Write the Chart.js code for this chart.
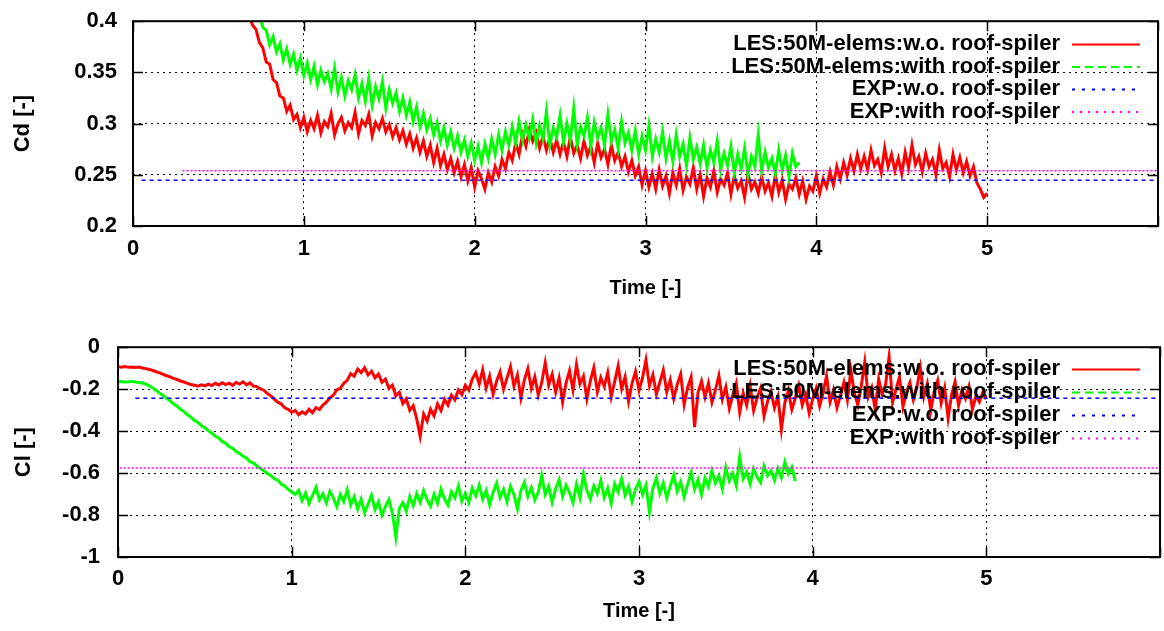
<!DOCTYPE html>
<html>
<head>
<meta charset="utf-8">
<script src="https://cdn.jsdelivr.net/npm/chart.js@4.4.1/dist/chart.umd.min.js"></script>
<style>
  html, body { margin: 0; padding: 0; background: #fff; overflow: hidden; }
  #wrap { position: relative; width: 1164px; height: 631px; overflow: hidden; }
  #cd { position: absolute; left: 0; top: -8px; }
  #cl { position: absolute; left: 0; top: 316px; }
</style>
</head>
<body>
<div id="wrap">
  <canvas id="cd" width="1168" height="324"></canvas>
  <canvas id="cl" width="1169" height="315"></canvas>
</div>
<script>
// series names
var names = ["LES:50M-elems:w.o. roof-spiler", "LES:50M-elems:with roof-spiler",
             "EXP:w.o. roof-spiler", "EXP:with roof-spiler"];

// sampling step of the LES records (time [-])
var dt = 0.02;

// Cd, LES without spoiler, starts at t = 0.68
var cdRedStart = 0.68;
var cdRed = [
  0.406, 0.396, 0.392, 0.379, 0.374, 0.360, 0.358, 0.343, 0.340, 0.327,
  0.325, 0.312, 0.318, 0.304, 0.309, 0.296, 0.306, 0.292, 0.303, 0.295,
  0.308, 0.291, 0.302, 0.297, 0.310, 0.289, 0.300, 0.306, 0.293, 0.301,
  0.296, 0.311, 0.290, 0.303, 0.298, 0.309, 0.288, 0.301, 0.295, 0.305,
  0.292, 0.299, 0.287, 0.296, 0.284, 0.293, 0.280, 0.290, 0.276, 0.286,
  0.272, 0.283, 0.268, 0.279, 0.262, 0.276, 0.259, 0.270, 0.255, 0.266,
  0.252, 0.263, 0.248, 0.260, 0.244, 0.257, 0.238, 0.254, 0.246, 0.236,
  0.252, 0.243, 0.258, 0.249, 0.265, 0.256, 0.272, 0.264, 0.281, 0.270,
  0.289, 0.278, 0.294, 0.283, 0.291, 0.276, 0.288, 0.274, 0.286, 0.272,
  0.284, 0.270, 0.282, 0.268, 0.287, 0.271, 0.279, 0.266, 0.283, 0.269,
  0.278, 0.262, 0.281, 0.267, 0.275, 0.260, 0.279, 0.264, 0.272, 0.258,
  0.268, 0.253, 0.264, 0.249, 0.258, 0.240, 0.254, 0.238, 0.251, 0.236,
  0.255, 0.239, 0.249, 0.232, 0.252, 0.240, 0.256, 0.235, 0.248, 0.241,
  0.257, 0.236, 0.250, 0.229, 0.247, 0.238, 0.254, 0.233, 0.246, 0.240,
  0.252, 0.231, 0.249, 0.237, 0.244, 0.228, 0.251, 0.236, 0.243, 0.232,
  0.248, 0.234, 0.242, 0.229, 0.250, 0.233, 0.245, 0.226, 0.241, 0.236,
  0.247, 0.231, 0.244, 0.226, 0.239, 0.234, 0.249, 0.232, 0.246, 0.238,
  0.253, 0.240, 0.258, 0.246, 0.262, 0.250, 0.266, 0.254, 0.270, 0.256,
  0.268, 0.255, 0.274, 0.259, 0.265, 0.252, 0.276, 0.258, 0.270, 0.254,
  0.266, 0.251, 0.272, 0.257, 0.279, 0.260, 0.268, 0.253, 0.271, 0.258,
  0.265, 0.250, 0.274, 0.256, 0.262, 0.248, 0.270, 0.255, 0.267, 0.252,
  0.263, 0.249, 0.258, 0.242, 0.236, 0.228, 0.232
];

// Cd, LES with spoiler, starts at t = 0.74
var cdGreenStart = 0.74;
var cdGreen = [
  0.408, 0.394, 0.391, 0.377, 0.385, 0.370, 0.378, 0.362, 0.373, 0.358,
  0.368, 0.352, 0.364, 0.347, 0.359, 0.343, 0.356, 0.338, 0.352, 0.341,
  0.349, 0.334, 0.354, 0.331, 0.345, 0.327, 0.342, 0.333, 0.348, 0.325,
  0.339, 0.322, 0.344, 0.318, 0.336, 0.324, 0.341, 0.315, 0.333, 0.320,
  0.330, 0.312, 0.325, 0.308, 0.321, 0.302, 0.316, 0.297, 0.310, 0.294,
  0.305, 0.289, 0.301, 0.283, 0.296, 0.279, 0.292, 0.276, 0.288, 0.272,
  0.284, 0.268, 0.281, 0.264, 0.278, 0.262, 0.280, 0.266, 0.285, 0.270,
  0.289, 0.274, 0.292, 0.279, 0.297, 0.281, 0.302, 0.284, 0.299, 0.286,
  0.304, 0.281, 0.298, 0.285, 0.312, 0.279, 0.296, 0.287, 0.308, 0.282,
  0.300, 0.284, 0.315, 0.280, 0.297, 0.288, 0.306, 0.278, 0.301, 0.286,
  0.296, 0.279, 0.309, 0.283, 0.294, 0.276, 0.302, 0.281, 0.291, 0.274,
  0.293, 0.270, 0.288, 0.274, 0.298, 0.268, 0.285, 0.272, 0.292, 0.266,
  0.283, 0.263, 0.289, 0.268, 0.280, 0.259, 0.286, 0.265, 0.277, 0.261,
  0.279, 0.257, 0.274, 0.262, 0.283, 0.255, 0.271, 0.259, 0.278, 0.252,
  0.270, 0.256, 0.276, 0.250, 0.268, 0.258, 0.289, 0.254, 0.272, 0.257,
  0.266, 0.251, 0.274, 0.255, 0.269, 0.248, 0.271, 0.258, 0.262
];

// Cl, LES without spoiler, starts at t = 0
var clRedStart = 0;
var clRed = [
  -0.093, -0.095, -0.092, -0.096, -0.094, -0.097, -0.095, -0.099, -0.102, -0.106,
  -0.111, -0.117, -0.122, -0.129, -0.136, -0.141, -0.149, -0.154, -0.161, -0.166,
  -0.172, -0.178, -0.181, -0.186, -0.179, -0.184, -0.176, -0.183, -0.172, -0.180,
  -0.169, -0.178, -0.171, -0.182, -0.168, -0.176, -0.165, -0.179, -0.170, -0.185,
  -0.188, -0.199, -0.205, -0.221, -0.232, -0.248, -0.262, -0.271, -0.289, -0.296,
  -0.310, -0.301, -0.322, -0.308, -0.318, -0.296, -0.312, -0.288, -0.297, -0.276,
  -0.262, -0.241, -0.229, -0.204, -0.196, -0.172, -0.158, -0.126, -0.138, -0.104,
  -0.121, -0.098, -0.132, -0.115, -0.146, -0.128, -0.167, -0.152, -0.196, -0.181,
  -0.232, -0.215, -0.268, -0.246, -0.301, -0.279, -0.342, -0.425, -0.318, -0.352,
  -0.296, -0.327, -0.271, -0.302, -0.248, -0.276, -0.229, -0.251, -0.204, -0.226,
  -0.182, -0.205, -0.152, -0.121, -0.176, -0.108, -0.195, -0.138, -0.224, -0.162,
  -0.118, -0.201, -0.147, -0.093, -0.186, -0.132, -0.242, -0.156, -0.102, -0.197,
  -0.141, -0.228, -0.168, -0.074, -0.181, -0.129, -0.215, -0.147, -0.262, -0.171,
  -0.112, -0.204, -0.083, -0.176, -0.138, -0.246, -0.159, -0.098, -0.213, -0.145,
  -0.187, -0.121, -0.236, -0.164, -0.089, -0.198, -0.141, -0.258, -0.172, -0.116,
  -0.205, -0.148, -0.061, -0.183, -0.131, -0.224, -0.167, -0.109, -0.213, -0.156,
  -0.245, -0.178, -0.128, -0.274, -0.192, -0.143, -0.381, -0.216, -0.162, -0.238,
  -0.171, -0.263, -0.205, -0.136, -0.248, -0.189, -0.292, -0.227, -0.172, -0.311,
  -0.219, -0.276, -0.184, -0.302, -0.241, -0.195, -0.328, -0.258, -0.211, -0.289,
  -0.236, -0.392, -0.264, -0.207, -0.298, -0.243, -0.183, -0.276, -0.226, -0.314,
  -0.248, -0.196, -0.281, -0.219, -0.137, -0.262, -0.204, -0.289, -0.231, -0.168,
  -0.252, -0.109, -0.218, -0.276, -0.184, -0.071, -0.237, -0.193, -0.298, -0.152,
  -0.224, -0.178, -0.046, -0.263, -0.201, -0.142, -0.284, -0.215, -0.169, -0.251,
  -0.192, -0.098, -0.236, -0.174, -0.302, -0.211, -0.158, -0.267, -0.194, -0.338,
  -0.226, -0.164, -0.278, -0.203, -0.245, -0.187, -0.296, -0.232, -0.261, -0.214,
  -0.248
];

// Cl, LES with spoiler, starts at t = 0
var clGreenStart = 0;
var clGreen = [
  -0.165, -0.164, -0.166, -0.165, -0.163, -0.166, -0.168, -0.171, -0.176, -0.184,
  -0.194, -0.206, -0.219, -0.230, -0.244, -0.256, -0.270, -0.281, -0.296, -0.307,
  -0.322, -0.333, -0.349, -0.358, -0.374, -0.384, -0.399, -0.409, -0.425, -0.433,
  -0.449, -0.457, -0.474, -0.481, -0.497, -0.506, -0.520, -0.528, -0.546, -0.552,
  -0.566, -0.578, -0.589, -0.602, -0.611, -0.627, -0.634, -0.652, -0.661, -0.677,
  -0.689, -0.702, -0.682, -0.731, -0.694, -0.745, -0.706, -0.668, -0.728, -0.699,
  -0.742, -0.687, -0.718, -0.761, -0.702, -0.736, -0.679, -0.752, -0.713, -0.771,
  -0.724, -0.789, -0.748, -0.706, -0.774, -0.738, -0.801, -0.759, -0.726, -0.792,
  -0.905, -0.768, -0.741, -0.782, -0.712, -0.756, -0.698, -0.739, -0.684, -0.727,
  -0.758, -0.701, -0.744, -0.676, -0.723, -0.752, -0.689, -0.718, -0.661, -0.734,
  -0.696, -0.741, -0.672, -0.709, -0.658, -0.724, -0.683, -0.751, -0.692, -0.648,
  -0.716, -0.677, -0.736, -0.663, -0.702, -0.771, -0.684, -0.645, -0.712, -0.669,
  -0.728, -0.691, -0.612, -0.703, -0.662, -0.739, -0.676, -0.632, -0.711, -0.658,
  -0.694, -0.741, -0.653, -0.718, -0.605, -0.682, -0.724, -0.661, -0.698, -0.636,
  -0.717, -0.672, -0.744, -0.651, -0.689, -0.628, -0.706, -0.663, -0.735, -0.677,
  -0.641, -0.702, -0.658, -0.785, -0.673, -0.624, -0.696, -0.647, -0.719, -0.662,
  -0.608, -0.687, -0.642, -0.714, -0.655, -0.598, -0.677, -0.631, -0.702, -0.624,
  -0.664, -0.589, -0.648, -0.612, -0.676, -0.573, -0.638, -0.601, -0.659, -0.522,
  -0.627, -0.594, -0.652, -0.581, -0.619, -0.645, -0.566, -0.612, -0.589, -0.634,
  -0.578, -0.621, -0.547, -0.603, -0.572, -0.638
];

// experiment values: [w.o. spoiler, with spoiler] and where each line starts
var expCd = [0.2447, 0.254];
var expCdFrom = [0.05, 0.29];
var expCl = [-0.243, -0.576];
var expClFrom = [0.10, 0.01];

// axis ticks
var timeMax = 6;
var cdMin = 0.2, cdMax = 0.4, cdStep = 0.05;
var clMin = -1, clMax = 0, clStep = 0.2;

var font = "'Liberation Sans', Arial, sans-serif";

function series(t0, vals) {
    return vals.map(function (v, i) {
        return { x: +(t0 + i * dt).toFixed(2), y: v };
    });
}
function level(t0, v) {
    return [{ x: t0, y: v }, { x: timeMax, y: v }];
}

// gnuplot-like border with inward ticks
var framePlugin = {
    id: "frame",
    afterDatasetsDraw: function (chart) {
        var ctx = chart.ctx, a = chart.chartArea;
        var xs = chart.scales.x, ys = chart.scales.y;
        ctx.save();
        ctx.strokeStyle = "#000";
        ctx.lineWidth = 1.5;
        ctx.beginPath();
        xs.ticks.forEach(function (t) {
            var p = Math.round(xs.getPixelForValue(t.value)) + 0.5;
            ctx.moveTo(p, a.bottom); ctx.lineTo(p, a.bottom - 10);
            ctx.moveTo(p, a.top); ctx.lineTo(p, a.top + 10);
        });
        ys.ticks.forEach(function (t) {
            var p = Math.round(ys.getPixelForValue(t.value)) + 0.5;
            ctx.moveTo(a.left, p); ctx.lineTo(a.left + 10, p);
            ctx.moveTo(a.right, p); ctx.lineTo(a.right - 10, p);
        });
        ctx.stroke();
        ctx.lineWidth = 2;
        ctx.strokeRect(a.left, a.top, a.right - a.left, a.bottom - a.top);
        ctx.restore();
    }
};

// key drawn inside the plot, text right aligned, like gnuplot
var keyPlugin = {
    id: "key",
    afterDraw: function (chart, args, opts) {
        var ctx = chart.ctx;
        ctx.save();
        ctx.font = "bold 22px " + font;
        ctx.textAlign = "right";
        ctx.textBaseline = "middle";
        chart.data.datasets.forEach(function (ds, i) {
            var y = opts.top + i * opts.gap;
            ctx.fillStyle = "#000";
            ctx.fillText(ds.label, opts.textRight, y);
            ctx.strokeStyle = ds.borderColor;
            ctx.lineWidth = 2;
            ctx.setLineDash(ds.keyDash);
            ctx.beginPath();
            ctx.moveTo(opts.lineFrom, y + 0.5);
            ctx.lineTo(opts.lineTo, y + 0.5);
            ctx.stroke();
        });
        ctx.restore();
    }
};

function makeChart(id, cfg) {
    var ctx = document.getElementById(id);
    return new Chart(ctx, {
        type: "line",
        data: {
            datasets: [
                { label: names[0], data: cfg.red, borderColor: "#ff0000", borderWidth: 3,
                  keyDash: [], order: 3 },
                { label: names[1], data: cfg.green, borderColor: "#00ff00", borderWidth: 3,
                  keyDash: [8, 5], order: 2 },
                { label: names[2], data: cfg.blue, borderColor: "#0000ff", borderWidth: 1.5,
                  borderDash: [4, 4], keyDash: [3, 7], order: 1 },
                { label: names[3], data: cfg.magenta, borderColor: "#ff00ff", borderWidth: 1.5,
                  borderDash: [2, 2], keyDash: [2, 6], order: 0 }
            ]
        },
        options: {
            responsive: false,
            animation: false,
            events: [],
            layout: { padding: { top: cfg.padTop, right: 1, left: 0, bottom: 0 } },
            elements: { point: { radius: 0 }, line: { tension: 0 } },
            plugins: {
                legend: { display: false },
                tooltip: { enabled: false },
                key: cfg.key
            },
            scales: {
                x: {
                    type: "linear",
                    min: 0, max: timeMax,
                    afterFit: function (s) { s.height = cfg.xHeight; },
                    ticks: {
                        stepSize: 1,
                        padding: cfg.xPad,
                        color: "#000",
                        font: { family: font, size: 22, weight: "bold" },
                        callback: function (v) { return v === timeMax ? "" : v; }
                    },
                    grid: { color: "#000", lineWidth: 1, drawTicks: false },
                    border: { display: false, dash: [2, 4] },
                    title: {
                        display: true, text: "Time [-]", color: "#000",
                        font: { family: font, size: 20, weight: "bold" },
                        padding: { top: 0, bottom: cfg.xTitlePad }
                    }
                },
                y: {
                    min: cfg.yMin, max: cfg.yMax,
                    afterFit: function (s) { s.width = cfg.yWidth; },
                    ticks: {
                        stepSize: cfg.yStep,
                        padding: cfg.yPad,
                        color: "#000",
                        font: { family: font, size: 22, weight: "bold" },
                        callback: function (v) { return String(+v.toFixed(2)); }
                    },
                    grid: { color: "#000", lineWidth: 1, drawTicks: false },
                    border: { display: false, dash: [2, 4] },
                    title: {
                        display: true, text: cfg.yTitle, color: "#000",
                        font: { family: font, size: 22, weight: "bold" },
                        padding: { top: cfg.yTitlePad, bottom: 0 }
                    }
                }
            }
        },
        plugins: [framePlugin, keyPlugin]
    });
}

makeChart("cd", {
    red: series(cdRedStart, cdRed),
    green: series(cdGreenStart, cdGreen),
    blue: level(expCdFrom[0], expCd[0]),
    magenta: level(expCdFrom[1], expCd[1]),
    yMin: cdMin, yMax: cdMax, yStep: cdStep, yTitle: "Cd [-]",
    padTop: 28, xHeight: 90, yWidth: 133, xPad: 10, yPad: 16,
    xTitlePad: 16, yTitlePad: 10,
    key: { top: 52, gap: 22.5, textRight: 1060, lineFrom: 1072, lineTo: 1140 }
});

makeChart("cl", {
    red: series(clRedStart, clRed),
    green: series(clGreenStart, clGreen),
    blue: level(expClFrom[0], expCl[0]),
    magenta: level(expClFrom[1], expCl[1]),
    yMin: clMin, yMax: clMax, yStep: clStep, yTitle: "Cl [-]",
    padTop: 31, xHeight: 74, yWidth: 118, xPad: 9, yPad: 18,
    xTitlePad: 8, yTitlePad: 11,
    key: { top: 53, gap: 23, textRight: 1060, lineFrom: 1072, lineTo: 1140 }
});
</script>
</body>
</html>
